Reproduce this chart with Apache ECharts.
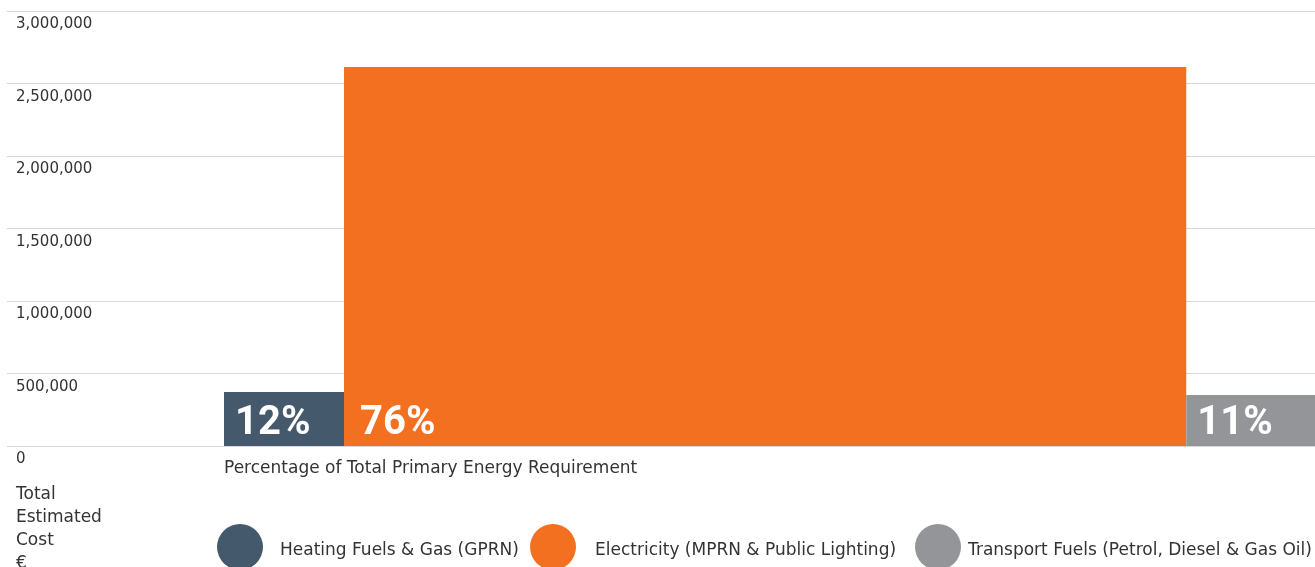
<!DOCTYPE html>
<html><head><meta charset="utf-8">
<script src="https://cdn.jsdelivr.net/npm/echarts@6/dist/echarts.min.js"></script>
<style>html,body{margin:0;padding:0;background:#fff}#c{width:1315px;height:567px}</style>
</head><body><div id="c"></div>
<script>
const categories = ['Heating Fuels & Gas (GPRN)', 'Electricity (MPRN & Public Lighting)', 'Transport Fuels (Petrol, Diesel & Gas Oil)'];
const percentLabels = ['12%', '76%', '11%'];
const widthShares = [11.0, 77.2, 11.8];
const costs = [372000, 2614000, 352000];
const yMax = 3000000;
const yStep = 500000;
const xAxisTitle = 'Percentage of Total Primary Energy Requirement';
const yAxisTitle = 'Total\nEstimated\nCost\n€';

const colors = ['#44596b', '#f37021', '#939598'];
const legendLeft = [217, 530, 915];
const legendTextPad = [12, 14, 2];
const labelOffset = [11, 16, 11];
const FONT = '"DejaVu Sans", Roboto, sans-serif';
const TEXT = '#333';

const starts = [];
let acc = 0;
widthShares.forEach(w => { starts.push(acc); acc += w; });

const chart = echarts.init(document.getElementById('c'), null, {renderer: 'canvas'});

const series = categories.map((name, i) => ({
  name: name,
  type: 'custom',
  xAxisIndex: 1,
  yAxisIndex: 1,
  itemStyle: {color: colors[i]},
  data: [[starts[i], starts[i] + widthShares[i], costs[i]]],
  renderItem: (params, api) => {
    const tl = api.coord([api.value(0), api.value(2)]);
    const br = api.coord([api.value(1), 0]);
    return {
      type: 'group',
      children: [
        {type: 'rect', shape: {x: tl[0], y: tl[1], width: br[0] - tl[0], height: br[1] - tl[1]},
         style: {fill: colors[i]}},
        {type: 'text', style: {text: percentLabels[i], x: tl[0] + labelOffset[i], y: br[1] - 22,
          fill: '#fff', font: 'bold 40px Roboto, sans-serif', align: 'left', verticalAlign: 'middle'}}
      ]
    };
  }
}));

chart.setOption({
  animation: false,
  backgroundColor: '#fff',
  grid: [
    {left: 7, right: 0, top: 11, bottom: 121},
    {left: 224, right: 0, top: 11, bottom: 121}
  ],
  xAxis: [
    {gridIndex: 0, type: 'value', min: 0, max: 1, show: false},
    {gridIndex: 1, type: 'value', min: 0, max: acc, show: false}
  ],
  yAxis: [
    {gridIndex: 0, type: 'value', min: 0, max: yMax, interval: yStep,
     axisLine: {show: false}, axisTick: {show: false},
     splitLine: {show: true, lineStyle: {color: '#d6d6d6', width: 1}},
     axisLabel: {show: true, inside: true, margin: 0, align: 'left', verticalAlign: 'top',
       padding: [6, 0, 0, 9], color: TEXT, fontFamily: FONT, fontSize: 15,
       formatter: v => v.toLocaleString('en-US')}},
    {gridIndex: 1, type: 'value', min: 0, max: yMax, interval: yStep, show: false, splitLine: {show: false}}
  ],
  legend: categories.map((name, i) => ({
    data: [name],
    left: legendLeft[i],
    top: 524,
    padding: 0,
    icon: 'circle',
    itemWidth: 46,
    itemHeight: 46,
    selectedMode: false,
    formatter: n => '{t|' + n + '}',
    textStyle: {color: TEXT, fontFamily: FONT, fontSize: 17,
      rich: {t: {color: TEXT, fontFamily: FONT, fontSize: 17, padding: [8, 0, 0, legendTextPad[i]]}}}
  })),
  graphic: [
    {type: 'text', left: 224, top: 460, style: {text: xAxisTitle, fill: TEXT, font: '17px ' + FONT}},
    {type: 'text', left: 16, top: 483, style: {text: yAxisTitle, fill: TEXT, font: '17px ' + FONT, lineHeight: 23}}
  ],
  series: series
});
</script>
</body></html>
